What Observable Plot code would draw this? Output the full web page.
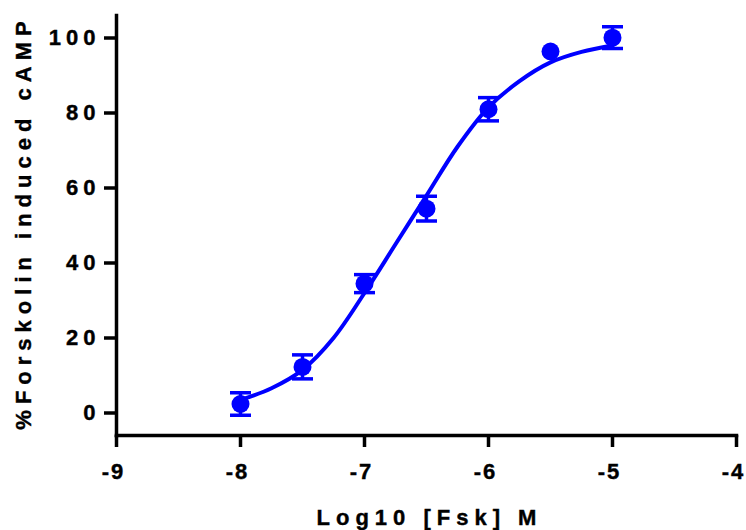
<!DOCTYPE html>
<html>
<head>
<meta charset="utf-8">
<script src="https://cdn.jsdelivr.net/npm/d3@7"></script>
<script src="https://cdn.jsdelivr.net/npm/@observablehq/plot@0.6"></script>
<style>
  html, body { margin: 0; padding: 0; background: #fff; }
</style>
</head>
<body>
<div id="chart"></div>
<script>
// Measured points (mean ± error)
const logConc = [-8, -7.5, -7, -6.5, -6, -5.5, -5];
const response = [2.4, 12.3, 34.5, 54.5, 81, 96.4, 100.1];
const errors = [3.0, 3.2, 2.4, 3.3, 3.1, 0, 2.9];

// Fitted curve
const curveX = [-8, -7.75, -7.5, -7.25, -7, -6.75, -6.5, -6.25, -6, -5.75, -5.5, -5.25, -5];
const curveY = [3.5, 6.6, 11.5, 20, 32, 45, 58, 71, 81.5, 88.5, 93.5, 96.3, 98];

const xTicks = [-9, -8, -7, -6, -5, -4];
const yTicks = [0, 20, 40, 60, 80, 100];
const xDomain = [-9, -4];
const yDomain = [-6, 106];
const xTitle = "Log10 [Fsk] M";
const yTitle = "%Forskolin induced cAMP";

const points = logConc.map((x, i) => ({x, y: response[i], lo: response[i] - errors[i], hi: response[i] + errors[i], err: errors[i]}));
const bars = points.filter(d => d.err > 0);
const caps = bars.flatMap(d => [{x: d.x, y: d.lo}, {x: d.x, y: d.hi}]);
const curve = curveX.map((x, i) => ({x, y: curveY[i]}));

const capSymbol = {
  draw(ctx, size) {
    const w = Math.sqrt(size / Math.PI);
    ctx.moveTo(-w, 0);
    ctx.lineTo(w, 0);
  }
};

const blue = "#0000ff";
const font = "'Liberation Sans', Arial, sans-serif";

const chart = Plot.plot({
  width: 746,
  height: 530,
  marginLeft: 116,
  marginRight: 10,
  marginTop: 15,
  marginBottom: 95,
  style: {fontFamily: font, background: "#fff", color: "#000"},
  x: {domain: xDomain},
  y: {domain: yDomain},
  marks: [
    Plot.axisX({ticks: xTicks, tickSize: 12, tickPadding: 16, strokeWidth: 3.5, fontSize: 22, fontWeight: "bold", tickFormat: d => String(d).replace("−", "-"), label: null}),
    Plot.axisY({ticks: yTicks, tickSize: 12, tickPadding: 4, strokeWidth: 3.5, fontSize: 22, fontWeight: "bold", label: null}),
    Plot.frame({anchor: "left", stroke: "#000", strokeWidth: 3.5, strokeLinecap: "square"}),
    Plot.frame({anchor: "bottom", stroke: "#000", strokeWidth: 3.5, strokeLinecap: "square"}),
    Plot.line(curve, {x: "x", y: "y", curve: "catmull-rom", stroke: blue, strokeWidth: 4}),
    Plot.ruleX(bars, {x: "x", y1: "lo", y2: "hi", stroke: blue, strokeWidth: 3.5}),
    Plot.dot(caps, {x: "x", y: "y", symbol: capSymbol, r: 10.5, stroke: blue, strokeWidth: 3.5, fill: "none"}),
    Plot.dot(points, {x: "x", y: "y", r: 9, fill: blue, stroke: "none"}),
    Plot.text([yTitle], {text: d => d, frameAnchor: "left", dx: -93, rotate: -90, fontSize: 22, fontWeight: "bold", fill: "#000", textAnchor: "middle", lineAnchor: "middle"}),
    Plot.text([xTitle], {text: d => d, frameAnchor: "bottom", dy: 82, fontSize: 22, fontWeight: "bold", fill: "#000", textAnchor: "middle", lineAnchor: "middle"})
  ]
});
const svg = d3.select(chart);
svg.selectAll("[aria-label='x-axis tick label'] text").attr("letter-spacing", "2px").attr("dx", "-3px");
svg.selectAll("[aria-label='y-axis tick label'] text").attr("letter-spacing", "5px");
svg.selectAll("text").filter(function() { const t = this.textContent; return t === xTitle || t === yTitle; })
  .attr("letter-spacing", "6px").attr("dx", "3px");
svg.selectAll("text").attr("stroke", "#000").attr("stroke-width", 0.4);
document.getElementById("chart").appendChild(chart);
</script>
</body>
</html>
